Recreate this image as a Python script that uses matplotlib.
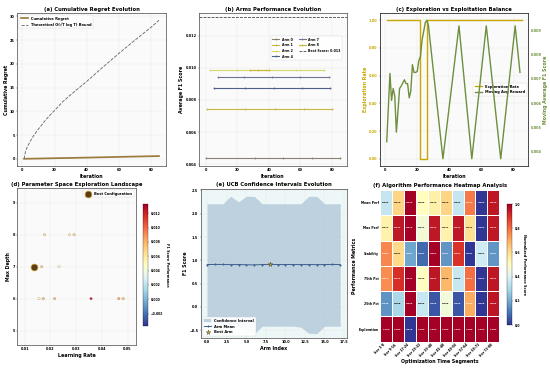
import numpy as np
import matplotlib
matplotlib.use('Agg')
import matplotlib.pyplot as plt
from matplotlib.colors import Normalize

plt.rcParams['font.family'] = 'DejaVu Sans'
plt.rcParams['font.weight'] = 'bold'
plt.rcParams['axes.labelweight'] = 'bold'
plt.rcParams['axes.titleweight'] = 'bold'
plt.rcParams['xtick.labelsize'] = 10
plt.rcParams['ytick.labelsize'] = 10

# ---------------- data ----------------
# (a) cumulative regret
regret_iter = [1, 10, 20, 30, 40, 50, 60, 70, 85]
regret_vals = [0.0, 0.05, 0.12, 0.18, 0.25, 0.32, 0.40, 0.47, 0.57]
bound_iter = [1, 2, 3, 5, 7, 10, 15, 20, 25, 30, 40, 50, 60, 70, 80, 85]
bound_vals = [0.0, 1.7, 2.5, 3.8, 4.9, 6.3, 8.4, 10.2, 12.0, 13.5, 16.3, 19.3, 22.2, 25.0, 27.7, 29.2]

# (b) arms performance
arm_names = ['Arm 0', 'Arm 1', 'Arm 2', 'Arm 4', 'Arm 7', 'Arm 8']
arm_scores = [0.00441, 0.00742, 0.00987, 0.00875, 0.00941, 0.00987]
arm_iters = [[0, 31, 49, 67, 85], [1, 25, 44, 62, 80], [3, 20, 38, 57, 75],
             [5, 25, 43, 61, 79], [8, 24, 42, 60, 78], [28, 33, 40]]
best_score = 0.0132

# (c) exploration vs exploitation
explore_x = [1, 21.6, 21.6, 26.1, 26.1, 85]
explore_y = [1.0, 1.0, 0.0, 0.0, 1.0, 1.0]
mov_x = [1, 3, 4, 5, 6, 7, 8, 9, 10, 12, 13, 14, 15, 16, 17, 18, 19, 20, 21, 22, 23,
         25, 26, 27, 36, 46, 54, 63, 72, 81, 84]
mov_y = [0.00442, 0.00722, 0.00611, 0.0066, 0.0063, 0.00481, 0.00567, 0.0066, 0.0067,
         0.00696, 0.0068, 0.0068, 0.00622, 0.0065, 0.00758, 0.00726, 0.00726, 0.0073,
         0.00775, 0.00792, 0.00858, 0.0093, 0.0094, 0.00917, 0.00372, 0.00917, 0.00372,
         0.00917, 0.00372, 0.00917, 0.00726]

# (d) parameter space
lr_vals = [0.0166, 0.0233, 0.0177, 0.0274, 0.0292, 0.0155, 0.0172, 0.0216, 0.0358, 0.0466, 0.0483]
depth_vals = [7, 7, 8, 8, 8, 6, 6, 6, 6, 6, 6]
f1_vals = [0.0072, 0.0052, 0.0066, 0.0056, 0.0072, 0.0052, 0.0078, 0.0078, 0.0125, 0.0085, 0.0078]
best_lr, best_depth, best_f1 = 0.0135, 7, 0.0132

# (e) UCB intervals
arm_idx = list(range(18))
ucb_mean = [0.910, 0.912, 0.912, 0.908, 0.910, 0.905, 0.903, 0.910, 0.913,
            0.910, 0.910, 0.910, 0.909, 0.910, 0.908, 0.910, 0.912, 0.910]
ucb_upper = [2.21, 2.21, 2.21, 2.37, 2.25, 2.37, 2.37, 2.21, 2.21,
             2.21, 2.21, 2.21, 2.21, 2.37, 2.37, 2.21, 2.21, 2.21]
ucb_lower = [-0.41, -0.41, -0.41, -0.43, -0.41, -0.47, -0.57, -0.41, -0.41,
             -0.41, -0.41, -0.41, -0.43, -0.56, -0.57, -0.41, -0.41, -0.41]
best_arm = 8

# (f) heatmap
metric_names = ['Mean Perf', 'Max Perf', 'Stability', '75th Pct', '25th Pct', 'Exploration']
segment_names = ['Iter 1-8', 'Iter 9-16', 'Iter 17-24', 'Iter 25-32', 'Iter 33-40',
                 'Iter 41-48', 'Iter 49-56', 'Iter 57-64', 'Iter 65-72', 'Iter 73-80']
mean_perf = [0.00923, 0.00972, 0.0104, 0.0095, 0.00959, 0.00972, 0.00923, 0.0100, 0.0086, 0.01031]
max_perf = [0.0108, 0.0123, 0.0125, 0.0105, 0.0123, 0.0108, 0.0123, 0.0110, 0.0088, 0.0123]
stability = [0.00122, 0.00108, 0.00068, 0.00058, 0.00145, 0.00065, 0.00135, 0.0005, 0.00085, 0.00065]
pct75 = [0.01053, 0.01093, 0.0112, 0.00985, 0.01107, 0.01034, 0.00945, 0.01066, 0.0085, 0.01107]
pct25 = [0.00823, 0.00845, 0.0095, 0.00853, 0.00808, 0.00868, 0.00808, 0.00905, 0.0080, 0.00943]
exploration = [1.0, 1.0, 0.375, 1.0, 1.0, 1.0, 1.0, 1.0, 1.0, 1.0]

# ---------------- figure ----------------
fig = plt.figure(figsize=(22, 14.72), dpi=25)
fig.patch.set_facecolor('white')

def style(ax, face='#fafafa'):
    ax.set_facecolor(face)
    ax.grid(True, color='#dddddd', linewidth=1.0, alpha=0.8)
    ax.set_axisbelow(True)
    for s in ax.spines.values():
        s.set_color('#333333')
        s.set_linewidth(1.8)

TS = 15
LS = 13.5
LEG = 10.5

# (a)
ax1 = fig.add_axes([0.0315, 0.5497, 0.2698, 0.4141])
style(ax1)
ax1.plot(regret_iter, regret_vals, color='#9b7a3c', linewidth=5, label='Cumulative Regret')
ax1.plot(bound_iter, bound_vals, color='#666666', linestyle='--', linewidth=2.5, label='Theoretical O(√T log T) Bound')
ax1.set_title('(a) Cumulative Regret Evolution', fontsize=TS, pad=8)
ax1.set_xlabel('Iteration', fontsize=LS)
ax1.set_ylabel('Cumulative Regret', fontsize=LS)
ax1.legend(loc='upper left', fontsize=LEG, framealpha=0.9)

# (b)
ax2 = fig.add_axes([0.3618, 0.5497, 0.2685, 0.4141])
style(ax2)
arm_colors = ['#8a7f70', '#c9b640', '#d8d86a', '#4e5f8e', '#6e7590', '#c8b830']
for name, sc, its, col in zip(arm_names, arm_scores, arm_iters, arm_colors):
    ax2.plot(its, [sc] * len(its), color=col, linewidth=3.2, marker='o', markersize=4, label=name)
ax2.axhline(best_score, color='#333333', linestyle='--', linewidth=2.2,
            label=f'Best Score: {best_score:.3f}')
ax2.set_title('(b) Arms Performance Evolution', fontsize=TS, pad=8)
ax2.set_xlabel('Iteration', fontsize=LS)
ax2.set_ylabel('Average F1 Score', fontsize=LS)
ax2.set_yticks([0.004, 0.006, 0.008, 0.010, 0.012])
ax2.set_ylim(0.0039, 0.0134)
ax2.legend(loc='upper right', bbox_to_anchor=(0.98, 0.86), ncol=2, fontsize=9.5, framealpha=0.9)

# (c)
ax3 = fig.add_axes([0.6909, 0.5497, 0.2697, 0.4141])
style(ax3)
c_exp = '#c8a800'
c_mov = '#6e8f3e'
l1, = ax3.plot(explore_x, explore_y, color=c_exp, linewidth=4, label='Exploration Rate')
ax3.set_ylabel('Exploration Rate', fontsize=LS, color=c_exp)
ax3.tick_params(axis='y', labelcolor=c_exp)
ax3.set_yticks([0.0, 0.2, 0.4, 0.6, 0.8, 1.0])
ax3.set_yticklabels(['0.00', '0.20', '0.40', '0.60', '0.80', '1.00'])
ax3.set_xlabel('Iteration', fontsize=LS)
ax3.set_title('(c) Exploration vs Exploitation Balance', fontsize=TS, pad=8)
ax3b = ax3.twinx()
l2, = ax3b.plot(mov_x, mov_y, color=c_mov, linewidth=4, label='Moving Avg Reward')
ax3b.set_ylabel('Moving Average F1 Score', fontsize=LS, color=c_mov)
ax3b.tick_params(axis='y', labelcolor=c_mov)
ax3b.set_yticks([0.004, 0.005, 0.006, 0.007, 0.008, 0.009])
for s in ax3b.spines.values():
    s.set_color('#333333')
    s.set_linewidth(1.8)
ax3.legend([l1, l2], ['Exploration Rate', 'Moving Avg Reward'], loc='center right',
           fontsize=LEG, framealpha=0.9, bbox_to_anchor=(1.0, 0.5))

# (d)
ax4 = fig.add_axes([0.0315, 0.0625, 0.2153, 0.4258])
style(ax4)
norm_d = Normalize(vmin=-0.0037, vmax=0.01326)
ax4.scatter(lr_vals, depth_vals, c=f1_vals, cmap='RdYlBu_r', norm=norm_d, s=55,
            alpha=0.85, edgecolors='#555555', linewidths=0.6)
ax4.scatter([best_lr], [best_depth], s=380, c='#5a3d14', edgecolors='#c89a30', linewidths=2,
            label='Best Configuration', zorder=5)
ax4.set_title('(d) Parameter Space Exploration Landscape', fontsize=TS, pad=8)
ax4.set_xlabel('Learning Rate', fontsize=LS)
ax4.set_ylabel('Max Depth', fontsize=LS)
ax4.set_xlim(0.0071, 0.0532)
ax4.set_ylim(4.55, 9.45)
ax4.set_xticks([0.01, 0.02, 0.03, 0.04, 0.05])
ax4.set_yticks([5, 6, 7, 8, 9])
ax4.legend(loc='upper right', fontsize=LEG, framealpha=0.9)
cax4 = fig.add_axes([0.26, 0.115, 0.0096, 0.330])
cb4 = fig.colorbar(plt.cm.ScalarMappable(norm=norm_d, cmap='RdYlBu_r'), cax=cax4)
cb4.set_ticks([-0.002, 0.0, 0.002, 0.004, 0.006, 0.008, 0.010, 0.012])
cb4.ax.tick_params(labelsize=9)
cb4.set_label('F1 Score Performance', fontsize=10, rotation=270, labelpad=16)

# (e)
ax5 = fig.add_axes([0.3649, 0.0823, 0.2655, 0.404])
style(ax5, face='#eef7f7')
ax5.fill_between(arm_idx, ucb_lower, ucb_upper, color='#b8cddd', alpha=0.9, label='Confidence Interval')
ax5.plot(arm_idx, ucb_mean, color='#3e5f8f', linewidth=2.8, marker='o', markersize=4.5, label='Arm Mean')
ax5.scatter([arm_idx[best_arm]], [ucb_mean[best_arm]], marker='*', s=200, c='#c8a020',
            edgecolors='#333333', linewidths=1.0, zorder=5, label='Best Arm')
ax5.set_title('(e) UCB Confidence Intervals Evolution', fontsize=TS, pad=8)
ax5.set_xlabel('Arm Index', fontsize=LS)
ax5.set_ylabel('F1 Score', fontsize=LS)
ax5.set_xlim(-0.85, 17.85)
ax5.set_ylim(-0.66, 2.53)
ax5.legend(loc='lower left', fontsize=LEG, framealpha=0.9)

# (f)
ax6 = fig.add_axes([0.6909, 0.0715, 0.2169, 0.4122])
raw = np.array([mean_perf, max_perf, stability, pct75, pct25, exploration])
mn = raw.min(axis=1, keepdims=True)
mx = raw.max(axis=1, keepdims=True)
normed = (raw - mn) / (mx - mn)
mesh = ax6.pcolormesh(normed, cmap='RdYlBu_r', vmin=0, vmax=1, edgecolors='white', linewidth=1.5)
ax6.invert_yaxis()
for i in range(raw.shape[0]):
    for j in range(raw.shape[1]):
        v = normed[i, j]
        tc = 'white' if (v > 0.7 or v < 0.25) else 'black'
        ax6.text(j + 0.5, i + 0.5, f'{raw[i, j]:.3f}', ha='center', va='center',
                 fontsize=7, color=tc, fontweight='bold')
ax6.set_xticks(np.arange(len(segment_names)) + 0.5)
ax6.set_xticklabels(segment_names, rotation=45, ha='right', fontsize=9)
ax6.set_yticks(np.arange(len(metric_names)) + 0.5)
ax6.set_yticklabels(metric_names, fontsize=9)
ax6.tick_params(length=0)
for s in ax6.spines.values():
    s.set_visible(False)
ax6.set_title('(f) Algorithm Performance Heatmap Analysis', fontsize=TS, pad=8)
ax6.set_xlabel('Optimization Time Segments', fontsize=LS)
ax6.set_ylabel('Performance Metrics', fontsize=LS)
cax6 = fig.add_axes([0.9218, 0.1168, 0.0091, 0.3288])
cb6 = fig.colorbar(mesh, cax=cax6)
cb6.ax.tick_params(labelsize=9)
cb6.set_label('Normalized Performance Score', fontsize=10, rotation=270, labelpad=16)

fig.savefig('out.png', dpi=25, facecolor='white')
